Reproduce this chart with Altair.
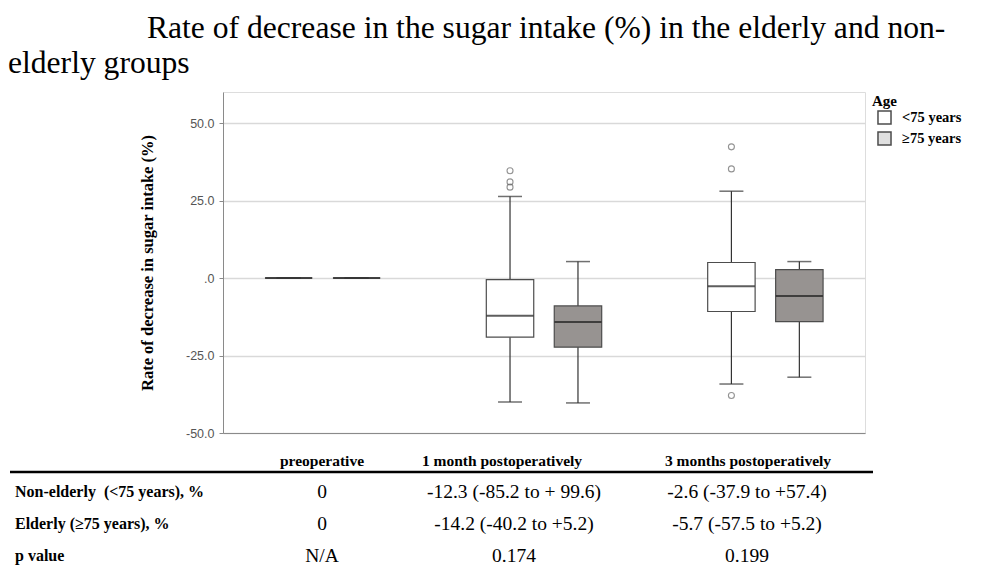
import altair as alt
import pandas as pd

# ---------------- data ----------------
times = ["preoperative", "1 month postoperatively", "3 months postoperatively"]
ages = ["<75 years", "≥75 years"]

box_time = [times[0], times[0], times[1], times[1], times[2], times[2]]
box_age = [ages[0], ages[1], ages[0], ages[1], ages[0], ages[1]]
lower = [0.0, 0.0, -40.0, -40.3, -34.2, -32.0]
q1 = [0.0, 0.0, -19.1, -22.3, -10.8, -14.1]
median = [0.0, 0.0, -12.2, -14.2, -2.7, -5.8]
q3 = [0.0, 0.0, -0.5, -9.0, 5.0, 2.7]
upper = [0.0, 0.0, 26.3, 5.3, 28.0, 5.3]

out_time = [times[1], times[1], times[1], times[2], times[2], times[2]]
out_age = [ages[0]] * 6
out_value = [34.6, 31.0, 29.3, 42.3, 35.2, -37.9]

y_ticks = [-50, -25, 0, 25, 50]

title_line1 = "Rate of decrease in the sugar intake (%) in the elderly and non-"
title_line2 = "elderly groups"
y_title = "Rate of decrease in sugar intake (%)"

row_labels = ["Non-elderly \u00a0(<75 years), %", "Elderly (≥75 years), %", "p value"]
col_headers = ["preoperative", "1 month postoperatively", "3 months postoperatively"]
col_preop = ["0", "0", "N/A"]
col_1m = ["-12.3 (-85.2 to + 99.6)", "-14.2 (-40.2 to +5.2)", "0.174"]
col_3m = ["-2.6 (-37.9 to +57.4)", "-5.7 (-57.5 to +5.2)", "0.199"]

box_df = pd.DataFrame({"time": box_time, "age": box_age, "lower": lower, "q1": q1,
                       "median": median, "q3": q3, "upper": upper})
out_df = pd.DataFrame({"time": out_time, "age": out_age, "value": out_value})

# ---------------- styles ----------------
SERIF = "Liberation Serif"
SANS = "Liberation Sans"
W, H = 642, 341

xscale = alt.Scale(domain=times, paddingInner=0.1, paddingOuter=0)
offscale = alt.Scale(domain=ages, paddingInner=0.302, paddingOuter=0.617)
yscale = alt.Scale(domain=[-50, 60], nice=False, zero=False)

xaxis = alt.Axis(title=None, labels=False, ticks=False, grid=False, domain=True,
                 domainColor="#8a8a8a", domainWidth=1)
yaxis = alt.Axis(title=y_title, values=y_ticks, grid=True, gridColor="#d9d9d9", gridWidth=1.5,
                 domainColor="#8a8a8a", domainWidth=1, tickColor="#8a8a8a", tickSize=4,
                 labelExpr="datum.value == 0 ? '.0' : toString(datum.value) + '.0'",
                 labelFont=SANS, labelFontSize=12.5, labelColor="#555555", labelPadding=5,
                 titleFont=SERIF, titleFontSize=16.5, titleFontWeight="bold", titleColor="black",
                 titlePadding=30)

X = alt.X("time:N", scale=xscale, axis=xaxis, sort=times)
XO = alt.XOffset("age:N", scale=offscale, sort=ages)


def Y(field):
    return alt.Y(field, type="quantitative", scale=yscale, axis=yaxis)


base = alt.Chart(box_df).encode(x=X, xOffset=XO)

whisker = base.mark_rule(color="#333333", strokeWidth=1.2).encode(y=Y("lower"), y2="upper:Q")
box = base.mark_bar(stroke="#4d4d4d", strokeWidth=1.2).encode(
    y=Y("q1"), y2="q3:Q",
    fill=alt.Fill("age:N", scale=alt.Scale(domain=ages, range=["white", "#979391"]), legend=None),
)
med = base.mark_tick(color="#1a1a1a", thickness=2, size=47, orient="horizontal").encode(y=Y("median"))
cap_lo = base.mark_tick(color="#333333", thickness=1.5, size=24, orient="horizontal").encode(y=Y("lower"))
cap_hi = base.mark_tick(color="#333333", thickness=1.5, size=24, orient="horizontal").encode(y=Y("upper"))

outliers = alt.Chart(out_df).mark_point(shape="circle", filled=False, size=36, color="#666666",
                                        strokeWidth=1.1).encode(x=X, xOffset=XO, y=Y("value"))

legend_layer = alt.Chart(box_df).transform_filter("false").mark_square(
    stroke="black", strokeWidth=1.5).encode(
    fill=alt.Fill("age:N", scale=alt.Scale(domain=ages, range=["white", "#d3d3d3"]),
                  legend=alt.Legend(title="Age", orient="none", legendX=649, legendY=2,
                                    titleFont=SERIF, titleFontSize=15, titleFontWeight="bold",
                                    titleColor="black", titlePadding=1,
                                    labelFont=SERIF, labelFontSize=14.5, labelFontWeight="bold",
                                    labelColor="black", labelOffset=10,
                                    symbolType="square", symbolSize=170,
                                    symbolStrokeColor="black", symbolStrokeWidth=1.5,
                                    symbolOffset=5, rowPadding=0))
)


def text(value, x, y, size, bold=False, align="left", baseline="middle", line_height=None):
    kw = dict(align=align, baseline=baseline, font=SERIF, fontSize=size, color="black",
              fontWeight="bold" if bold else "normal")
    if line_height is not None:
        kw.update(lineBreak="\n", lineHeight=line_height)
    return alt.Chart(pd.DataFrame({"t": [value]})).mark_text(**kw).encode(
        x=alt.value(x), y=alt.value(y), text="t:N")


title1 = text(title_line1, -76, -54, 31.6, baseline="alphabetic")
title2 = text(title_line2, -215, -19, 31.6, baseline="alphabetic")

header_x = [99, 279, 525]
col_x = [99, 291, 524]
headers = [text(h, cx, 369, 15.5, bold=True, align="center") for h, cx in zip(col_headers, header_x)]
cols = [text("\n".join(vals), cx, 400, 19.5, align="center", line_height=32)
        for vals, cx in zip([col_preop, col_1m, col_3m], col_x)]
rows = text("\n".join(row_labels), -208, 400, 16, bold=True, align="left", line_height=32)

table_rule = alt.Chart(pd.DataFrame({"a": [0]})).mark_rule(color="black", strokeWidth=2.5).encode(
    x=alt.value(-213), x2=alt.value(650), y=alt.value(380))

chart = alt.layer(
    whisker, box, med, cap_lo, cap_hi, outliers, legend_layer,
    title1, title2, *headers, *cols, rows, table_rule,
).resolve_scale(fill="independent").properties(
    width=W, height=H, autosize="none",
    padding={"left": 215, "top": 84, "right": 110, "bottom": 138},
).configure_view(stroke=None).configure(background="white")

chart.save("out.html", embed_options={"renderer": "svg", "actions": False})
